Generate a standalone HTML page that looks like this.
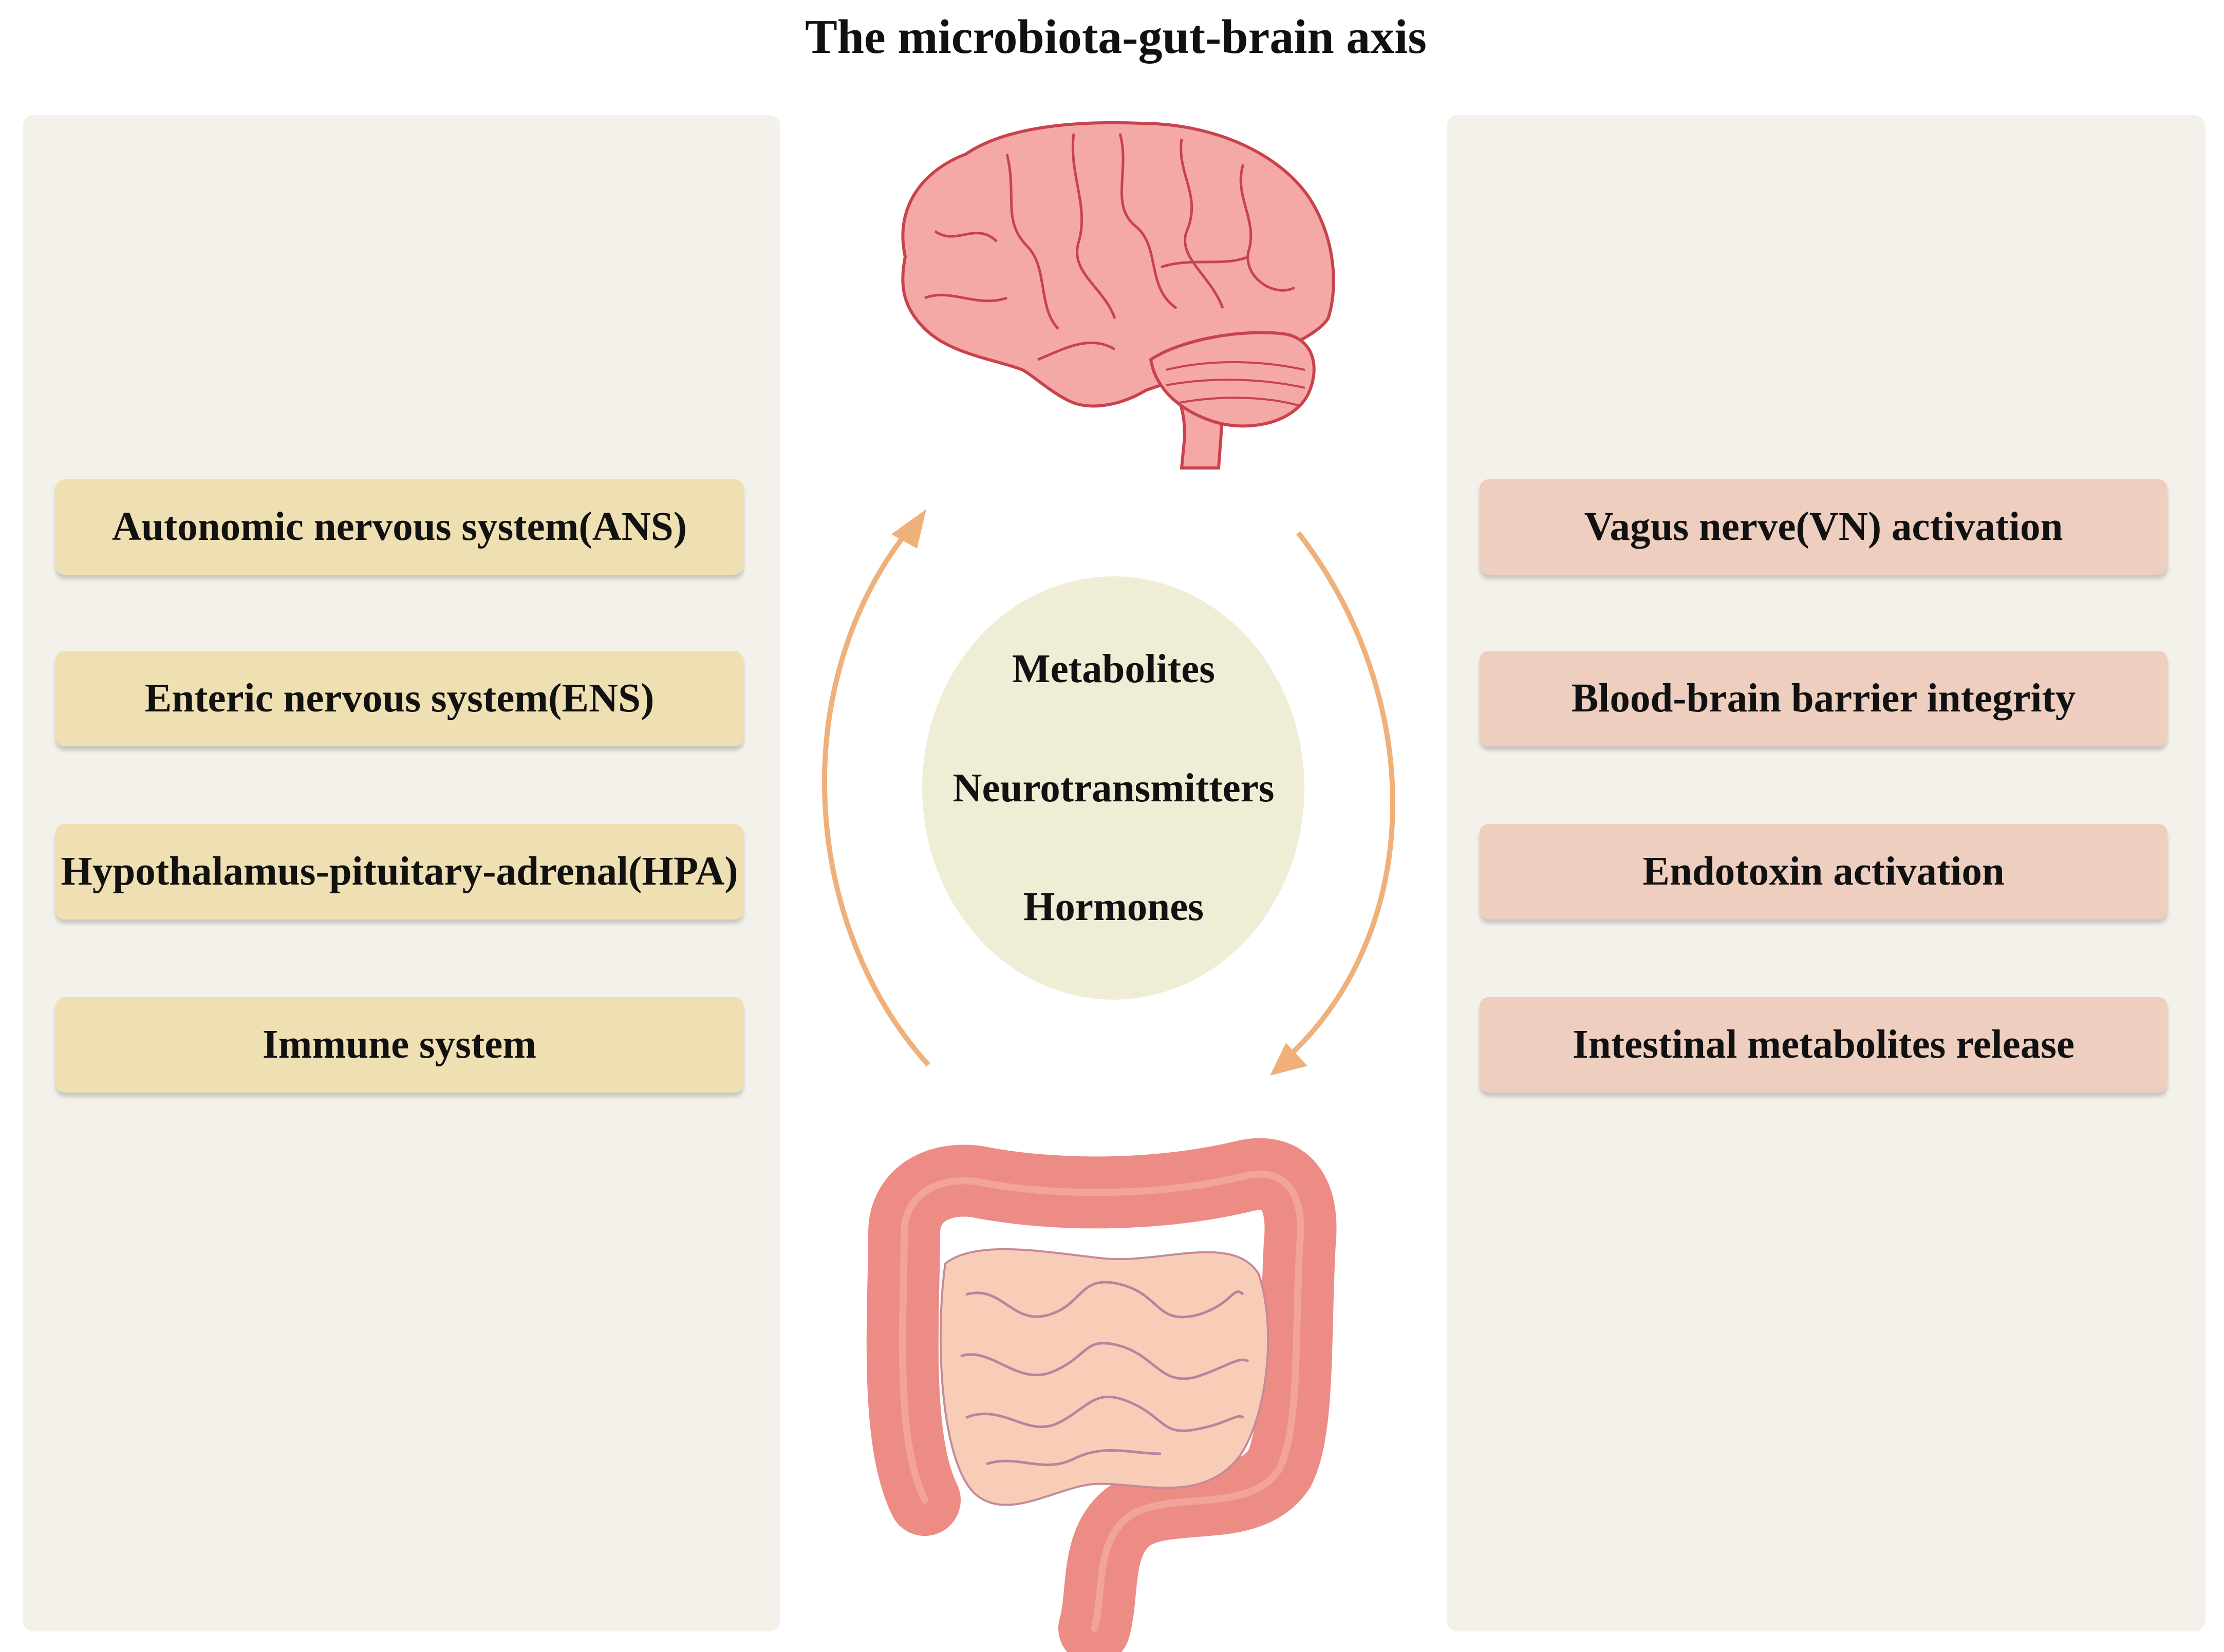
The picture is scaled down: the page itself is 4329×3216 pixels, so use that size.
<!DOCTYPE html>
<html><head><meta charset="utf-8"><style>
html,body{margin:0;padding:0;background:#fff}
body{width:4329px;height:3216px;position:relative;overflow:hidden;font-family:"Liberation Serif",serif}
.panel{position:absolute;background:#f3f1ea;border-radius:22px}
.box{position:absolute;height:186px;border-radius:18px;box-shadow:0 8px 8px rgba(0,0,0,.18);display:flex;align-items:center;justify-content:center;font-weight:bold;font-size:79px;color:#111;white-space:nowrap}
.l{left:108px;width:1339px;background:#eee0b2}
.r{left:2880px;width:1339px;background:#edcebf}
.title{position:absolute;left:0;width:4329px;top:18px;text-align:center;font-weight:bold;font-size:94px;color:#111;padding-left:15px;box-sizing:border-box}
.ct{position:absolute;left:1797px;width:741px;text-align:center;font-weight:bold;font-size:79px;color:#111}
</style></head><body>
<div class="title">The microbiota-gut-brain axis</div>
<div class="panel" style="left:44px;top:224px;width:1475px;height:2952px"></div>
<div class="panel" style="left:2816px;top:224px;width:1477px;height:2952px"></div>
<div class="box l" style="top:933px">Autonomic nervous system(ANS)</div>
<div class="box l" style="top:1267px">Enteric nervous system(ENS)</div>
<div class="box l" style="top:1604px">Hypothalamus-pituitary-adrenal(HPA)</div>
<div class="box l" style="top:1941px">Immune system</div>
<div class="box r" style="top:933px">Vagus nerve(VN) activation</div>
<div class="box r" style="top:1267px">Blood-brain barrier integrity</div>
<div class="box r" style="top:1604px">Endotoxin activation</div>
<div class="box r" style="top:1941px">Intestinal metabolites release</div>
<svg width="4329" height="3216" style="position:absolute;left:0;top:0">
<ellipse cx="2167" cy="1534" rx="372" ry="412" fill="#efedd6"/>
<path d="M1807 2073 C1560 1800 1530 1330 1770 1030" fill="none" stroke="#f0b07a" stroke-width="10"/>
<polygon points="1803,991 1735,1040 1785,1068" fill="#f0b07a"/>
<path d="M2527 1037 C2770 1350 2780 1800 2510 2055" fill="none" stroke="#f0b07a" stroke-width="10"/>
<polygon points="2472,2094 2545,2075 2503,2030" fill="#f0b07a"/>
<!-- brain -->
<g stroke="#c8434e" stroke-width="6" fill="#f4a9a7">
<path d="M2260 700 C2290 760 2310 800 2305 860 L2300 911 L2372 911 L2378 830 C2380 780 2360 740 2340 710 Z"/>
<path d="M1762 500 C1740 400 1800 330 1880 300 C1960 245 2100 235 2220 240 C2350 240 2480 290 2545 380 C2600 460 2605 560 2585 620 C2560 660 2450 700 2390 720 C2330 730 2270 745 2230 760 C2180 790 2120 800 2080 780 C2040 760 2010 730 1990 720 C1940 700 1850 690 1800 640 C1760 600 1750 560 1762 500 Z"/>
<path d="M2240 700 C2300 660 2420 640 2500 650 C2560 660 2570 720 2545 770 C2510 830 2420 840 2360 820 C2300 800 2250 760 2240 700 Z"/>
</g>
<g stroke="#c8434e" stroke-width="5" fill="none">
<path d="M1820 450 C1860 480 1900 430 1940 470 M1960 300 C1980 380 1950 430 2000 480 C2040 520 2020 600 2060 640 M2090 260 C2080 340 2120 400 2100 470 C2080 530 2150 560 2170 620 M2180 260 C2200 330 2160 400 2210 440 C2260 480 2230 560 2290 600 M2300 270 C2290 340 2340 380 2310 450 C2290 500 2360 540 2380 600 M2420 320 C2400 380 2450 430 2430 490 C2420 540 2480 580 2520 560 M1800 580 C1850 560 1900 600 1960 580 M2020 700 C2070 680 2120 650 2170 680 M2260 520 C2320 500 2380 520 2430 500"/>
<path d="M2270 720 C2350 700 2450 700 2540 720 M2270 750 C2350 735 2450 735 2540 755 M2290 785 C2370 770 2460 770 2530 790" stroke-width="4"/>
</g>
<!-- gut -->
<g fill="none" stroke-linecap="round">
<path d="M1800 2920 C1740 2800 1760 2550 1760 2400 C1760 2330 1820 2290 1900 2300 C2050 2330 2250 2330 2420 2290 C2500 2270 2540 2320 2530 2420 C2520 2600 2530 2780 2490 2860 C2430 2950 2280 2900 2200 2950 C2130 3000 2150 3100 2130 3170" stroke="#ec8c84" stroke-width="140"/>
<path d="M1800 2920 C1740 2800 1760 2550 1760 2400 C1760 2330 1820 2290 1900 2300 C2050 2330 2250 2330 2420 2290 C2500 2270 2540 2320 2530 2420 C2520 2600 2530 2780 2490 2860 C2430 2950 2280 2900 2200 2950 C2130 3000 2150 3100 2130 3170" stroke="#f2a39a" stroke-width="14"/>
</g>
<path d="M1840 2460 C1900 2410 2050 2440 2150 2450 C2260 2460 2400 2400 2450 2480 C2490 2600 2460 2790 2400 2850 C2320 2930 2200 2880 2120 2890 C2050 2900 1960 2960 1900 2910 C1830 2850 1820 2600 1840 2460 Z" fill="#f7cdb8" stroke="#c58a9a" stroke-width="4"/>
<g fill="none" stroke="#b9839c" stroke-width="5">
<path d="M1880 2520 C1950 2500 1970 2580 2040 2560 C2110 2540 2100 2480 2180 2500 C2260 2520 2250 2580 2330 2560 C2400 2540 2400 2500 2420 2520"/>
<path d="M1870 2640 C1930 2620 1980 2700 2050 2670 C2120 2640 2110 2600 2180 2620 C2250 2640 2260 2700 2330 2680 C2390 2660 2410 2640 2430 2650"/>
<path d="M1880 2760 C1950 2730 2000 2800 2060 2770 C2120 2740 2130 2700 2200 2730 C2270 2760 2260 2800 2340 2780 C2390 2770 2410 2750 2420 2760"/>
<path d="M1920 2850 C1980 2830 2030 2870 2090 2840 C2150 2810 2200 2830 2260 2830"/>
</g>
</svg>
<div class="ct" style="top:1258px">Metabolites</div>
<div class="ct" style="top:1490px">Neurotransmitters</div>
<div class="ct" style="top:1721px">Hormones</div>
</body></html>
